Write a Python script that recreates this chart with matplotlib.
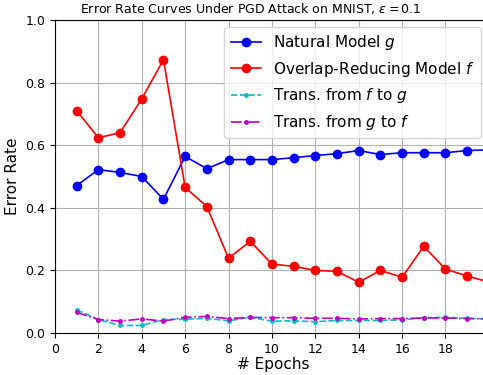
import numpy as np
import matplotlib
matplotlib.use('Agg')
import matplotlib.pyplot as plt

epochs = np.arange(1, 21)
natural_g = [0.471, 0.522, 0.513, 0.500, 0.427, 0.564, 0.525, 0.554, 0.554, 0.554,
             0.560, 0.567, 0.573, 0.583, 0.570, 0.576, 0.576, 0.576, 0.583, 0.585]
overlap_f = [0.710, 0.624, 0.640, 0.748, 0.873, 0.465, 0.404, 0.239, 0.293, 0.220,
             0.213, 0.200, 0.197, 0.162, 0.200, 0.178, 0.277, 0.204, 0.182, 0.163]
trans_f_to_g = [0.074, 0.043, 0.024, 0.024, 0.043, 0.044, 0.047, 0.039, 0.050, 0.038,
                0.039, 0.036, 0.040, 0.040, 0.040, 0.042, 0.049, 0.050, 0.047, 0.045]
trans_g_to_f = [0.066, 0.043, 0.038, 0.045, 0.038, 0.050, 0.053, 0.046, 0.050, 0.049,
                0.049, 0.047, 0.047, 0.045, 0.046, 0.046, 0.048, 0.048, 0.046, 0.045]
xtick_vals = np.arange(0, 19, 2)

fig = plt.figure(figsize=(4.83, 3.75), dpi=100)
# axes runs a little past the right edge, like the cropped original
ax = fig.add_axes([55/483, 42/375, 436/483, 313/375])

ax.plot(epochs, natural_g, 'b-o', markersize=6, linewidth=1.2, label='Natural Model $g$')
ax.plot(epochs, overlap_f, 'r-o', markersize=6, linewidth=1.2, label='Overlap-Reducing Model $f$')
ax.plot(epochs, trans_f_to_g, 'c--.', markersize=5, linewidth=1.2, label='Trans. from $f$ to $g$')
ax.plot(epochs, trans_g_to_f, 'm-.', marker='.', markersize=5, linewidth=1.2,
        label='Trans. from $g$ to $f$')

ax.set_xlim(0, 20.1)
ax.set_ylim(0, 1.0)
ax.set_xticks(xtick_vals)
ax.set_yticks(np.arange(0, 1.01, 0.2))
ax.tick_params(labelsize=9)
ax.grid(True, color='#b0b0b0', linewidth=0.8)
ax.spines['right'].set_visible(False)

ax.set_xlabel('# Epochs', fontsize=11, labelpad=1)
ax.set_ylabel('Error Rate', fontsize=11)
fig.text(251/483, 1 - 9/375, r'Error Rate Curves Under PGD Attack on MNIST, $\epsilon = 0.1$',
         ha='center', va='center', fontsize=9)

ax.legend(loc='upper right', bbox_to_anchor=(481/483, 1 - 27/375),
          bbox_transform=fig.transFigure, fontsize=11, borderaxespad=0,
          handlelength=2.0)

fig.savefig('out.png', dpi=100)
